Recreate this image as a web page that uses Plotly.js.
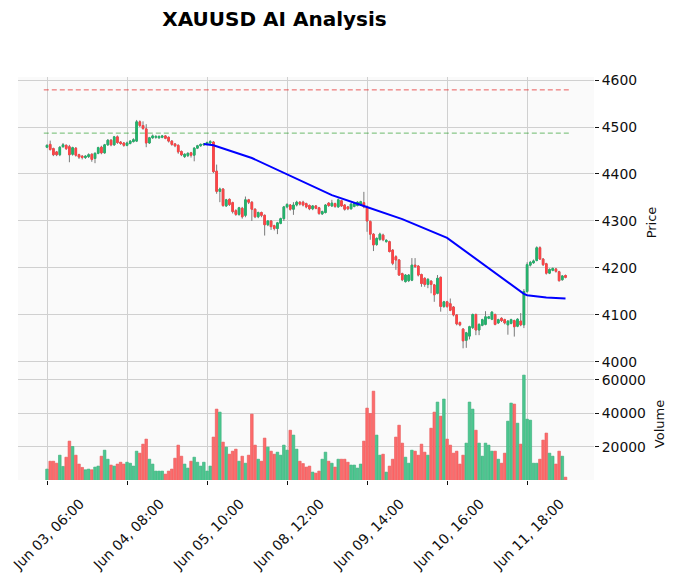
<!DOCTYPE html>
<html>
<head>
<meta charset="utf-8">
<script src="https://cdn.plot.ly/plotly-3.0.1.min.js"></script>
<style>html,body{margin:0;padding:0;background:#fff;}#chart{width:677px;height:574px;}</style>
</head>
<body>
<div id="chart"></div>
<script>
// ---- data ----
const opens = [4457,4463,4454,4447,4441,4458,4461,4458,4442,4455,4441,4438,4435,4437,4442,4433,4444,4457,4445,4462,
4472,4462,4479,4468,4466,4461,4465,4469,4470,4511,4503,4496,4466,4477,4478,4477,4478,4481,4478,4470,
4464,4461,4448,4437,4439,4445,4440,4455,4460,4462,4463,4466,4468,4406,4363,4368,4332,4346,4339,4322,
4314,4327,4312,4345,4340,4325,4309,4318,4312,4292,4300,4290,4284,4295,4305,4330,4334,4325,4334,4340,
4340,4337,4333,4326,4332,4328,4315,4318,4338,4332,4337,4330,4343,4334,4330,4326,4331,4333,4334,4339,
4330,4299,4272,4250,4261,4270,4256,4256,4238,4224,4217,4188,4171,4173,4174,4206,4204,4186,4178,4165,
4172,4164,4146,4180,4118,4128,4124,4117,4100,4084,4070,4046,4055,4073,4101,4068,4078,4080,4093,4091,
4101,4083,4093,4090,4079,4082,4088,4076,4087,4079,4150,4206,4211,4216,4243,4219,4209,4189,4195,4198,
4192,4175,4184];
const highs = [4463,4471,4456,4449,4459,4466,4463,4462,4458,4457,4443,4440,4440,4444,4444,4446,4458,4460,4464,4474,
4474,4481,4482,4470,4468,4469,4472,4476,4515,4514,4512,4506,4479,4484,4482,4482,4483,4483,4480,4472,
4466,4463,4450,4444,4446,4447,4457,4462,4465,4466,4469,4472,4470,4420,4371,4370,4347,4348,4341,4325,
4330,4330,4352,4347,4342,4327,4320,4320,4314,4302,4302,4292,4298,4307,4332,4338,4336,4340,4343,4342,
4343,4339,4335,4334,4334,4330,4322,4336,4340,4345,4339,4348,4345,4336,4332,4338,4340,4342,4343,4362,
4333,4301,4274,4265,4275,4273,4261,4258,4240,4227,4219,4190,4187,4187,4221,4221,4206,4188,4180,4178,
4174,4166,4185,4182,4130,4130,4135,4119,4102,4086,4072,4064,4077,4103,4103,4082,4092,4108,4098,4108,
4103,4092,4095,4092,4089,4092,4090,4093,4104,4155,4212,4215,4218,4246,4246,4221,4211,4199,4201,4200,
4194,4185,4186];
const lows = [4455,4450,4438,4438,4438,4456,4451,4425,4439,4437,4432,4431,4432,4434,4426,4423,4442,4442,4443,4460,
4459,4460,4464,4462,4458,4459,4463,4467,4468,4500,4494,4457,4464,4475,4475,4475,4476,4474,4467,4460,
4457,4443,4438,4434,4436,4435,4427,4453,4458,4460,4461,4464,4402,4358,4340,4330,4330,4332,4316,4311,
4311,4305,4308,4336,4300,4306,4306,4308,4269,4289,4281,4280,4272,4293,4300,4327,4322,4313,4331,4333,
4331,4327,4323,4323,4325,4313,4313,4316,4330,4330,4328,4328,4330,4322,4323,4324,4329,4331,4332,4327,
4277,4260,4236,4247,4258,4257,4254,4233,4206,4196,4183,4172,4169,4170,4172,4200,4182,4160,4160,4157,
4146,4128,4144,4107,4115,4115,4108,4097,4078,4076,4029,4030,4048,4070,4057,4057,4076,4078,4091,4089,
4078,4081,4085,4080,4058,4080,4054,4074,4076,4072,4147,4203,4209,4214,4217,4204,4186,4187,4193,4190,
4171,4173,4178];
const closes = [4461,4452,4441,4441,4457,4462,4454,4441,4456,4440,4436,4435,4438,4441,4431,4444,4456,4445,4462,4472,
4462,4479,4467,4465,4461,4466,4470,4473,4511,4503,4497,4466,4477,4481,4480,4480,4481,4476,4470,4463,
4460,4447,4441,4442,4444,4440,4455,4460,4463,4464,4467,4469,4405,4363,4368,4333,4345,4335,4320,4314,
4328,4309,4345,4340,4325,4309,4318,4312,4292,4300,4288,4284,4296,4305,4330,4335,4325,4334,4340,4336,
4334,4330,4326,4332,4327,4316,4320,4334,4333,4338,4331,4345,4332,4325,4326,4336,4338,4340,4341,4330,
4300,4272,4249,4263,4272,4260,4259,4235,4210,4217,4185,4175,4185,4185,4206,4203,4185,4167,4165,4176,
4165,4143,4178,4118,4128,4118,4110,4100,4081,4079,4045,4062,4075,4101,4068,4080,4090,4096,4096,4106,
4080,4090,4088,4083,4087,4090,4075,4091,4079,4150,4207,4212,4215,4243,4219,4207,4189,4197,4199,4193,
4173,4183,4180];
const volumes = [6800,11500,11500,10300,15100,8400,13900,23500,20300,15100,9800,7800,6400,6800,6400,8000,8600,14500,18100,12700,
9200,8600,9800,10900,9800,10900,10300,8600,17500,16300,21700,24700,12700,9800,5600,5600,5600,3800,5600,6800,
13300,21100,14500,9800,7400,11500,13900,10900,8600,10900,5600,8600,25900,42600,40800,22900,19900,15700,17500,18700,
11500,14500,10300,15100,39600,21100,12700,11500,25300,19900,17500,15700,16900,15100,21100,18100,30000,27100,18700,11500,
10100,8000,8600,5000,4400,5600,12700,16900,11500,10300,8000,12700,12700,12700,10900,9200,9200,7400,9800,23500,
43200,40000,53300,27100,15100,15700,5000,8600,12700,25900,33000,22300,13900,10300,18100,17500,15100,21700,16900,15100,
31200,40800,46800,38400,48600,24700,21100,16300,17500,9800,15100,22300,46800,42600,30000,22300,14500,22300,21100,17500,
17500,12700,10300,16300,35400,46200,45600,34200,21700,62900,36600,36000,10300,10300,12700,24100,28300,16300,14500,9800,
17500,14500,2000];

// AI projection line (bar index, price)
const aiIdx = [49,52,64,75,89,99,111,125,132,138,149,150,156,162];
const aiVal = [4464,4461,4434,4400,4355,4332,4304,4264,4229,4199,4145,4142,4137,4135];

// horizontal levels
const levelVals = [4579, 4487];
const levelColors = ['rgba(230,40,40,0.75)', 'rgba(30,150,30,0.65)'];

// x tick labels
const tickIdx = [0,25,50,75,100,125,150];
const tickLabels = ['Jun 03, 06:00','Jun 04, 08:00','Jun 05, 10:00','Jun 08, 12:00','Jun 09, 14:00','Jun 10, 16:00','Jun 11, 18:00'];

// ---- build traces ----
const idx = opens.map((_, i) => i);
const UP = '#22b46c', DOWN = '#fe4446';
const VUP = '#4dc790', VDOWN = '#fd6b6c';
const isUp = opens.map((o, i) => closes[i] >= o);

const traces = [];
// wicks (gray)
traces.push({
  type: 'candlestick', x: idx, open: opens, high: highs, low: lows, close: closes,
  xaxis: 'x', yaxis: 'y',
  increasing: {line: {color: '#7a7a7a', width: 1}, fillcolor: '#7a7a7a'},
  decreasing: {line: {color: '#7a7a7a', width: 1}, fillcolor: '#7a7a7a'},
  whiskerwidth: 0, showlegend: false, hoverinfo: 'skip'
});
// bodies (coloured)
traces.push({
  type: 'candlestick', x: idx, open: opens, close: closes,
  high: opens.map((o, i) => Math.max(o, closes[i])),
  low: opens.map((o, i) => Math.min(o, closes[i])),
  xaxis: 'x', yaxis: 'y',
  increasing: {line: {color: UP, width: 1}, fillcolor: UP},
  decreasing: {line: {color: DOWN, width: 1}, fillcolor: DOWN},
  whiskerwidth: 0, showlegend: false
});
// levels
levelVals.forEach((v, k) => {
  traces.push({
    type: 'scatter', mode: 'lines', x: [idx[0] - 1, idx[idx.length - 1] + 1.5], y: [v, v],
    xaxis: 'x', yaxis: 'y',
    line: {color: levelColors[k], width: 1, dash: '5px,3px'}, showlegend: false, hoverinfo: 'skip'
  });
});
// AI line
traces.push({
  type: 'scatter', mode: 'lines', x: aiIdx, y: aiVal, xaxis: 'x', yaxis: 'y',
  line: {color: '#0000ff', width: 2}, showlegend: false
});
// volume
traces.push({
  type: 'bar', x: idx, y: volumes, xaxis: 'x', yaxis: 'y2', width: 0.82,
  marker: {color: isUp.map(u => u ? VUP : VDOWN),
           line: {color: isUp.map(u => u ? '#36ad78' : '#e85555'), width: 0.6}},
  showlegend: false
});

const font = {family: 'DejaVu Sans, sans-serif', size: 13.9, color: '#101010'};
const layout = {
  width: 677, height: 574,
  margin: {l: 18, r: 83, t: 77, b: 94, pad: 0},
  paper_bgcolor: '#ffffff', plot_bgcolor: '#fafafa',
  font: font,
  showlegend: false,
  title: {text: '<b>XAUUSD AI Analysis</b>', x: 274.5 / 677, xanchor: 'center', xref: 'container',
          y: 1 - 19 / 574, yanchor: 'middle', yref: 'container',
          font: {family: 'DejaVu Sans, sans-serif', size: 20, color: '#000'}},
  xaxis: {
    range: [-9.06, 170.9], anchor: 'y2', tickmode: 'array', tickvals: tickIdx, ticktext: tickLabels,
    tickangle: -45, ticks: 'outside', ticklen: 4, tickwidth: 1, tickcolor: '#101010',
    ticklabeloverflow: 'allow', ticklabelshift: 33, ticklabelstandoff: 5,
    showgrid: true, gridcolor: '#d0d0d0', gridwidth: 1, zeroline: false, showline: false,
    rangeslider: {visible: false}, tickfont: font, fixedrange: true
  },
  yaxis: {
    domain: [0.278, 1], range: [3987.2, 4606.4], side: 'right', anchor: 'x',
    tickmode: 'array', tickvals: [4000,4100,4200,4300,4400,4500,4600], tickformat: 'd',
    ticks: 'outside', ticklen: 4, tickcolor: '#101010', showgrid: true, gridcolor: '#d0d0d0',
    zeroline: false, showline: false, tickfont: font,
    title: {text: 'Price', standoff: 10, font: {family: 'DejaVu Sans, sans-serif', size: 13, color: '#101010'}}
  },
  yaxis2: {
    domain: [0, 0.278], range: [300, 67160], side: 'right', anchor: 'x',
    tickmode: 'array', tickvals: [20000,40000,60000], tickformat: 'd',
    ticks: 'outside', ticklen: 4, tickcolor: '#101010', showgrid: true, gridcolor: '#d0d0d0',
    zeroline: false, showline: false, tickfont: font,
    title: {text: 'Volume', standoff: 9, font: {family: 'DejaVu Sans, sans-serif', size: 13, color: '#101010'}}
  },
  bargap: 0
};
Plotly.newPlot('chart', traces, layout, {displayModeBar: false, staticPlot: true});
</script>
</body>
</html>
